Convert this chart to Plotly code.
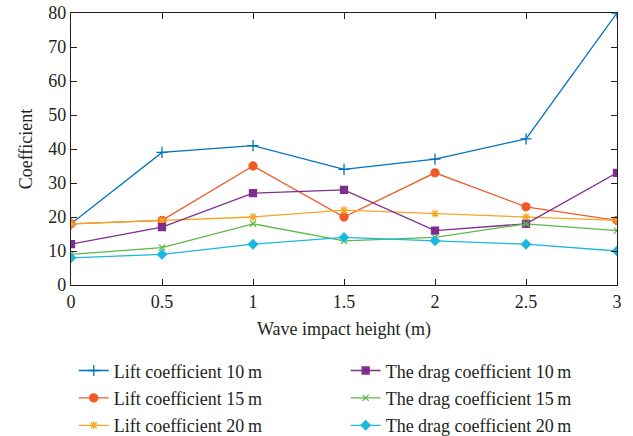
import plotly.graph_objects as go

x = [0, 0.5, 1, 1.5, 2, 2.5, 3]
lift10 = [18, 39, 41, 34, 37, 43, 80]
lift15 = [18, 19, 35, 20, 33, 23, 19]
lift20 = [18, 19, 20, 22, 21, 20, 19]
drag10 = [12, 17, 27, 28, 16, 18, 33]
drag15 = [9, 11, 18, 13, 14, 18, 16]
drag20 = [8, 9, 12, 14, 13, 12, 10]

names = ["Lift coefficient 10\u2009m", "Lift coefficient 15\u2009m", "Lift coefficient 20\u2009m",
         "The drag coefficient 10\u2009m", "The drag coefficient 15\u2009m", "The drag coefficient 20\u2009m"]
series = [lift10, lift15, lift20, drag10, drag15, drag20]
colors = ["#0072BD", "#F05A28", "#F5A623", "#7E2F8E", "#5DB847", "#1BB8E0"]
symbols = ["cross-thin", "circle", "asterisk", "square", "x-thin", "diamond"]
sizes = [8, 8, 7, 7, 6, 7]
legends = ["legend", "legend", "legend", "legend2", "legend2", "legend2"]

fig = go.Figure()
for i, (n, y, c, s, sz, lg) in enumerate(zip(names, series, colors, symbols, sizes, legends)):
    fig.add_trace(go.Scatter(
        x=x, y=y, name=n, mode="lines+markers",
        line=dict(color=c, width=1.3),
        marker=dict(symbol=s, size=sz, color=c, line=dict(color=c, width=1.3)),
        legend=lg, legendgroup="g%d" % i,
    ))

font = dict(family="Liberation Serif, DejaVu Serif, serif", size=18, color="#231f20")
axis_common = dict(
    showline=True, linecolor="#231f20", linewidth=1.2, mirror="ticks",
    ticks="inside", ticklen=6, tickcolor="#231f20", showgrid=False, zeroline=False,
    tickfont=font,
)
leg_common = dict(yref="container", y=0.192, xanchor="left", yanchor="top", font=font,
                  bgcolor="rgba(0,0,0,0)", tracegroupgap=1)
fig.update_layout(
    width=633, height=436,
    margin=dict(l=71, r=16, t=13, b=151, autoexpand=False),
    paper_bgcolor="white", plot_bgcolor="white",
    font=font,
    showlegend=True,
    xaxis=dict(range=[0, 3], tickvals=x, ticktext=["0", "0.5", "1", "1.5", "2", "2.5", "3"],
               title=dict(text="Wave impact height (m)", font=font, standoff=11), **axis_common),
    yaxis=dict(range=[0, 80], dtick=10,
               title=dict(text="Coefficient", font=font, standoff=10), **axis_common),
    legend=dict(x=0.005, **leg_common),
    legend2=dict(x=0.503, **leg_common),
)
fig.write_html("out.html")
